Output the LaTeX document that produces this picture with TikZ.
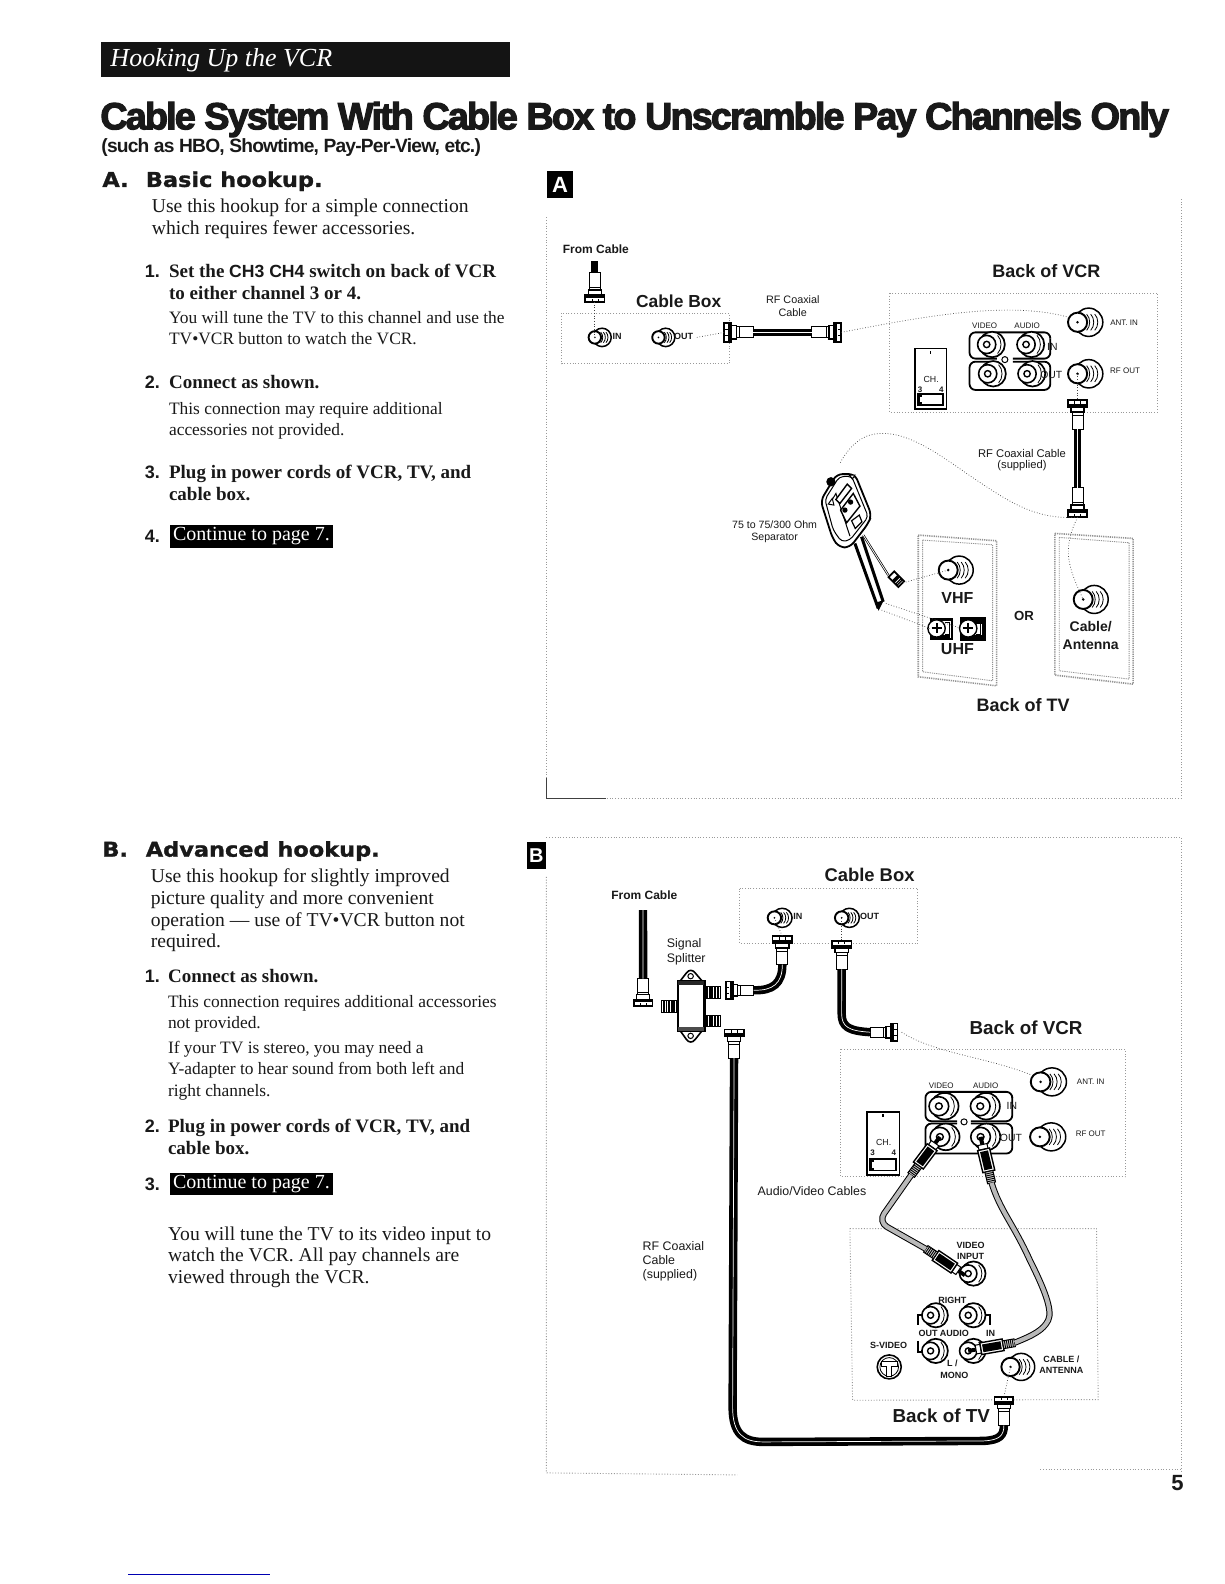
\documentclass[tikz,border=0pt]{standalone}
\usepackage{fontspec}
\setmainfont{Liberation Serif}
\setsansfont{Liberation Sans}
\newfontfamily\titlef[BoldFeatures={FakeBold=3,LetterSpace=-5}]{Liberation Sans}
\newfontfamily\subf[BoldFeatures={LetterSpace=-4.1}]{Liberation Sans}
\newfontfamily\headf[BoldFeatures={FakeBold=1.2,FakeStretch=1.1}]{DejaVu Sans}
\usetikzlibrary{calc}
\tikzset{
 txt/.style={inner sep=0pt,anchor=base west,text=black!90},
 ctr/.style={inner sep=0pt,anchor=center,text=black!90,align=center},
 para/.style={txt,font=\fontsize{9.8}{12}\selectfont},
 sub/.style={txt,font=\fontsize{8.7}{10}\selectfont},
 head/.style={txt,font=\fontsize{9.5}{12}\selectfont\bfseries},
 num/.style={txt,font=\sffamily\bfseries\fontsize{9}{11}\selectfont},
 big/.style={txt,font=\headf\bfseries\fontsize{10.2}{13}\selectfont},
 lblb/.style={ctr,font=\sffamily\bfseries\fontsize{9}{11}\selectfont},
 lblm/.style={ctr,font=\sffamily\bfseries\fontsize{7}{8.4}\selectfont},
 lbls/.style={ctr,font=\sffamily\bfseries\fontsize{6}{7}\selectfont},
 lbln/.style={ctr,font=\sffamily\fontsize{6.2}{7.5}\selectfont},
 lblt/.style={ctr,font=\sffamily\fontsize{4}{5}\selectfont},
 lbltb/.style={ctr,font=\sffamily\bfseries\fontsize{4.5}{5.2}\selectfont},
 framedot/.style={dash pattern=on .5pt off .9pt,gray!80,line width=.45pt},
 platedot/.style={dash pattern=on .6pt off .5pt,gray!85,line width=.8pt},
 wire/.style={densely dotted,black!75,line width=.35pt},
 coax/.style={black,line width=3.6pt,line cap=butt},
 coaxb/.style={black,line width=4.2pt,line cap=butt},
 coaxin/.style={white,line width=.35pt},
 avcable/.style={draw=black,double=gray!55,double distance=2.1pt,line width=.5pt},
 part/.style={draw=black,line width=.55pt,fill=white},
 btn/.style={inner sep=0pt,anchor=center,text=white,fill=black,minimum width=81.8pt,minimum height=11.1pt,font=\fontsize{10}{12}\selectfont},
}
% coaxial jack, front face left, threads right
\newcommand{\coaxjack}[4]{\begin{scope}[shift={(#2,#3)},scale=#4]
 \draw[part,line width=.75pt] (11,0) circle (14);
 \foreach \q in {9,13,17}{\draw[line width=.4pt] (\q,-8) .. controls (\q+4,-4) and (\q+4,4) .. (\q,8);}
 \draw[part,line width=.95pt] (0,0) circle (9.5);
 \fill (0,0) circle (1.4);
 \coordinate (#1) at (0,0);
\end{scope}}
% phono jack
\newcommand{\rcajack}[4]{\begin{scope}[shift={(#2,#3)},scale=#4]
 \draw[part,line width=.85pt] (6,0) circle (14);
 \draw[line width=.4pt] (12,-10) .. controls (17,-5) and (17,5) .. (12,10);
 \draw[part,line width=.8pt] (0,0) circle (10);
 \draw[part,line width=.7pt] (0,0) circle (3.5);
 \coordinate (#1) at (0,0);
\end{scope}}
% threaded plug: nose at origin, cable leaves along +x
\newcommand{\plug}[5]{\begin{scope}[shift={(#2,#3)},rotate=#4,scale=#5]
 \draw[part,line width=.5pt] (12,-5.5) rectangle (29,5.5);
 \draw[part,line width=.7pt] (7,-6.5) rectangle (12,6.5);
 \draw[part,line width=.8pt] (0,-9.5) rectangle (7,9.5);
 \fill (4,-9.5) rectangle (7,9.5);
 \draw[line width=.3pt] (15,-5) -- (15,5);
 \draw[line width=.3pt] (0.5,-3) -- (3.5,-3) (0.5,3) -- (3.5,3);
 \coordinate (#1) at (29,0);
 \coordinate (#1-nose) at (0,0);
\end{scope}}
% phono plug: tip at origin, cable leaves along +x
\newcommand{\rcaplug}[5]{\begin{scope}[shift={(#2,#3)},rotate=#4,scale=#5]
 \fill (0,-2) rectangle (8,2);
 \draw[part,line width=.5pt] (8,-4.5) rectangle (13,4.5);
 \draw[part,line width=.7pt] (13,-6) rectangle (36,6);
 \fill (15,-4) rectangle (34,4);
 \draw[fill=gray!40,line width=.5pt] (36,-4) rectangle (48,4);
 \foreach \q in {38,40,...,46}{\draw[line width=.45pt] (\q,-4) -- (\q,4);}
 \coordinate (#1) at (48,0);
\end{scope}}
% control panel of the VCR
\newcommand{\chpanel}{%
 \draw[part,line width=.7pt] (0,0) rectangle (31,60);
 \fill (14.5,2) rectangle (16,5);
 \draw[black,fill=white,line width=.8pt] (3,45) rectangle (28,56);
 \fill (3,45) rectangle (7,56);
 \draw[fill=white,draw=none] (5,48) rectangle (9,53);
}
\newcommand{\threads}[4]{% x1,y1,x2,y2 horizontal threads
 \draw[part,line width=.5pt] (#1,#2) rectangle (#3,#4);
 \foreach \q in {0,.1,...,1}{\draw[line width=.55pt] ($(#1,#2)!\q!(#3,#2)$) -- ($(#1,#4)!\q!(#3,#4)$);}
}
\begin{document}
\begin{tikzpicture}[x=.50495pt,y=-.50510pt]
\useasboundingbox (0,0) rectangle (1212,1568);
\fill[white] (0,0) rectangle (1212,1568);

% ---------- header ----------
\fill[black!92] (100,42) rectangle (505,76);
\node[txt,text=white,font=\itshape\fontsize{13}{15}\selectfont] (hdr) at (109,66) {Hooking Up the VCR};
\node[txt,font=\titlef\bfseries\fontsize{18.9}{20}\selectfont] (title) at (99,128) {Cable System With Cable Box to Unscramble Pay Channels Only};
\node[txt,font=\subf\bfseries\fontsize{9.6}{11}\selectfont] (subt) at (100,151) {(such as HBO, Showtime, Pay-Per-View, etc.)};

% ---------- left column A ----------
\node[big] (Aa) at (101,185) {A.};
\node[big] (Ab) at (144,185) {Basic hookup.};
\node[para] (a1) at (150,210) {Use this hookup for a simple connection};
\node[para] (a2) at (150,232) {which requires fewer accessories.};
\node[num] (n1) at (143,275) {1.};
\node[head] (a3) at (167,275) {Set the \textsf{\fontsize{8.8}{12}\selectfont CH3 CH4} switch on back of VCR};
\node[head] (a4) at (167,296) {to either channel 3 or 4.};
\node[sub] (a5) at (167,320) {You will tune the TV to this channel and use the};
\node[sub] (a6) at (167,341) {TV•VCR button to watch the VCR.};
\node[num] (n2) at (143,385) {2.};
\node[head] (a7) at (167,385) {Connect as shown.};
\node[sub] (a8) at (167,410) {This connection may require additional};
\node[sub] (a9) at (167,431) {accessories not provided.};
\node[num] (n3) at (143,474) {3.};
\node[head] (a10) at (167,474) {Plug in power cords of VCR, TV, and};
\node[head] (a11) at (167,495) {cable box.};
\node[num] (n4) at (143,537) {4.};
\node[btn] (a12) at (249,531) {Continue to page 7.};

% ---------- left column B ----------
\node[big] (Ba) at (101,848) {B.};
\node[big] (Bb) at (144,848) {Advanced hookup.};
\node[para] (b1) at (149,874) {Use this hookup for slightly improved};
\node[para] (b2) at (149,895) {picture quality and more convenient};
\node[para] (b3) at (149,917) {operation — use of TV•VCR button not};
\node[para] (b4) at (149,938) {required.};
\node[num] (m1) at (143,973) {1.};
\node[head] (b5) at (166,973) {Connect as shown.};
\node[sub] (b6) at (166,997) {This connection requires additional accessories};
\node[sub] (b7) at (166,1018) {not provided.};
\node[sub] (b8) at (166,1043) {If your TV is stereo, you may need a};
\node[sub] (b9) at (166,1064) {Y-adapter to hear sound from both left and};
\node[sub] (b10) at (166,1085) {right channels.};
\node[num] (m2) at (143,1121) {2.};
\node[head] (b11) at (166,1121) {Plug in power cords of VCR, TV, and};
\node[head] (b12) at (166,1143) {cable box.};
\node[num] (m3) at (143,1178) {3.};
\node[btn] (b13) at (249,1172) {Continue to page 7.};
\node[para] (b14) at (166,1228) {You will tune the TV to its video input to};
\node[para] (b15) at (166,1249) {watch the VCR. All pay channels are};
\node[para] (b16) at (166,1271) {viewed through the VCR.};

% page number and rule
\node[ctr,font=\sffamily\bfseries\fontsize{11}{13}\selectfont] (pg) at (1166,1468) {5};
\draw[blue!70!black,line width=.4pt] (127,1558) -- (267,1558);

% ---------- panel frames ----------
\draw[framedot] (541,215) -- (541,790) -- (1170,790) -- (1170,195);
\draw[black!75,line width=.5pt] (541,770) -- (541,790) -- (600,790);
\draw[framedot] (541,829) -- (1170,829) -- (1170,1458);
\draw[framedot] (541,868) -- (541,1458) -- (730,1460);
\draw[framedot] (1030,1455) -- (1170,1455);
\node[inner sep=0pt,fill=black,text=white,minimum width=13.3pt,minimum height=13.5pt,font=\sffamily\bfseries\fontsize{11}{11}\selectfont] (tagA) at (554.5,183) {A};
\node[inner sep=0pt,fill=black,text=white,minimum width=9.5pt,minimum height=13.5pt,font=\sffamily\bfseries\fontsize{10}{11}\selectfont] (tagB) at (531,847) {B};

% ---------- panel A, top ----------
\node[lbls] (fcA) at (590,247) {From Cable};
\node[lblb,font=\sffamily\bfseries\fontsize{8.7}{10}\selectfont] (cbA) at (672,298) {Cable Box};
\node[lblt,font=\sffamily\fontsize{5.4}{6.5}\selectfont] (rfA) at (785,297) {RF Coaxial};
\node[lblt,font=\sffamily\fontsize{5.4}{6.5}\selectfont] (rfA2) at (785,309) {Cable};
\node[lblb] (vcrA) at (1036,268) {Back of VCR};
\draw[framedot] (556,310) rectangle (722,360);
\draw[framedot] (881,290) rectangle (1146,408);

\coaxjack{jAin}{589}{334}{.65}
\coaxjack{jAout}{652}{334}{.65}
\node[lbltb] (inA) at (611,333) {IN};
\node[lbltb] (outA) at (677,333) {OUT};
\plug{pAf}{589}{299}{90}{1}
\draw[coax] (pAf) -- (589,258);
\draw[wire] (pAf-nose) -- (jAin);
\plug{pAl}{717}{329}{0}{1}
\plug{pAr}{833}{329}{180}{1}
\draw[coax] (pAl) -- (pAr);
\draw[coaxin] (pAl) -- (pAr);
\draw[wire] (jAout) ++(38,0) -- (pAl-nose);
\coaxjack{jAant}{1067}{319}{1}
\coaxjack{jArf}{1067}{370}{1}
\draw[wire] (pAr-nose) .. controls (920,312) and (1000,298) .. (1058,314);
\node[lblt] (vidA) at (975,322) {VIDEO};
\node[lblt] (audA) at (1017,322) {AUDIO};
\node[lblt] (antA) at (1113,319) {ANT. IN};
\node[lblt] (rfoA) at (1114,367) {RF OUT};
\draw[black,line width=.9pt,rounded corners=3pt] (1040,335) -- (1040,329) -- (960,329) -- (960,355) -- (987,355);
\draw[black,line width=.9pt,rounded corners=3pt] (1003,355) -- (1040,355) -- (1040,335);
\draw[black,line width=.9pt,rounded corners=3pt] (987,358) -- (960,358) -- (960,386) -- (1040,386) -- (1040,358) -- (1003,358);
\draw[line width=.5pt] (995,356) circle (3);
\rcajack{rAa}{977}{341}{.9}
\rcajack{rAb}{1016}{341}{.9}
\rcajack{rAc}{978}{370}{.9}
\rcajack{rAd}{1017}{370}{.9}
\node[lblt,font=\sffamily\fontsize{5.2}{6}\selectfont] (inAb) at (1042,343) {IN};
\node[lblt,font=\sffamily\fontsize{5.2}{6}\selectfont] (outAb) at (1041,371) {OUT};
\begin{scope}[shift={(906,345)}]\chpanel\end{scope}
\node[lblt,font=\sffamily\fontsize{4.4}{5}\selectfont] (chA) at (922,376) {CH.};
\node[lblt,font=\sffamily\bfseries\fontsize{4}{5}\selectfont] (c3A) at (911,386) {3};
\node[lblt,font=\sffamily\bfseries\fontsize{4}{5}\selectfont] (c4A) at (932,386) {4};

% ---------- panel A, lower ----------
\plug{pAt}{1067}{396}{-90}{1}
\plug{pAb}{1067}{512}{90}{1}
\draw[coax] (pAt) -- (pAb);
\draw[coaxin] (pAt) -- (pAb);
\draw[wire] (jArf) -- (pAt-nose);
\node[lbln,font=\sffamily\fontsize{5.6}{6.7}\selectfont] (rfA3) at (1012,449) {RF Coaxial Cable};
\node[lbln,font=\sffamily\fontsize{5.6}{6.7}\selectfont] (rfA4) at (1012,461) {(supplied)};
\node[lbln,font=\sffamily\fontsize{5.3}{6.5}\selectfont] (sepA) at (767,519) {75 to 75/300 Ohm};
\node[lbln,font=\sffamily\fontsize{5.3}{6.5}\selectfont] (sepB) at (767,532) {Separator};
% separator
\begin{scope}[shift={(792.08,455.45)},scale=.33]
 \draw[black,line width=1.1pt,fill=white] (190,225) -- (265,345);
 \draw[white,line width=.4pt] (190,225) -- (265,345);
 \draw[black,line width=1.5pt] (165,250) -- (235,445);
 \draw[black,line width=1.5pt] (185,230) -- (250,425);
 \fill (226,428) -- (252,420) -- (236,452) -- cycle;
 \draw[part,line width=.9pt,rounded corners=3pt] (62,122) -- (110,42) -- (165,42) -- (215,165) -- (205,190) -- (150,262) -- (118,262) -- (98,235) -- cycle;
 \draw[line width=.5pt,rounded corners=2pt] (75,118) -- (118,50) -- (155,48) -- (205,170) -- (150,240) -- (125,245) -- (100,210) -- cycle;
 \draw[line width=.5pt] (96,120) -- (108,100) -- (150,228);
 \draw[part,line width=.7pt] (108,118) -- (142,72) -- (155,85) -- (120,130) -- cycle;
 \draw[part,line width=.7pt] (122,150) -- (160,100) -- (180,138) -- (140,188) -- cycle;
 \fill (135,150) circle (8); \fill (152,126) circle (8);
 \draw[part,line width=.6pt] (155,182) -- (178,165) -- (186,185) -- (166,205) -- cycle;
 \draw[part,line width=.5pt] (85,132) -- (97,115) -- (102,135) -- cycle;
 \draw[part,line width=.5pt] (148,45) -- (165,45) -- (158,56) -- cycle;
 \fill (93,65) circle (14);
 \begin{scope}[shift={(290,358)},rotate=-45]
  \draw[part,line width=.9pt] (-22,-12) rectangle (20,12);
  \fill (-8,-12) rectangle (3,12);
  \foreach \q in {8,13}{\draw[line width=.6pt] (\q,-12) -- (\q,12);}
 \end{scope}
 \coordinate (sepEnd) at (310,368);
 \coordinate (sepU1) at (258,430);
 \coordinate (sepU2) at (245,450);
 \coordinate (sepTop) at (120,10);
\end{scope}
\begin{scope}[shift={(693.07,415.84)},xscale=.33,yscale=.33]
 % wall plates
 \draw[platedot] (655,345) -- (890,362) -- (890,797) -- (655,770) -- cycle;
 \draw[platedot,line width=.45pt] (668,360) -- (878,374) -- (878,782) -- (668,755) -- cycle;
 \draw[platedot] (1065,340) -- (1300,355) -- (1300,792) -- (1065,765) -- cycle;
 \draw[platedot,line width=.45pt] (1078,352) -- (1288,368) -- (1288,777) -- (1078,752) -- cycle;
 % TV jacks
 \coaxjack{jTv}{745}{450}{3}
 \coaxjack{jTc}{1150}{538}{3}
 \draw[wire] (sepEnd) -- (jTv);
 % UHF
 \draw[black,line width=1.2pt,fill=white] (695,598) rectangle (757,656);
 \draw[black,line width=2pt,fill=white] (787,598) rectangle (853,656);
 \fill (800,600) rectangle (850,612); \fill (800,645) rectangle (850,655);
 \fill (700,645) rectangle (750,655);
 \foreach \q in {710,805}{
  \draw[part,line width=.7pt] (\q,625) circle (26);
  \draw[line width=1pt] (\q-15,625) -- (\q+15,625) (\q,610) -- (\q,640);
  \draw[line width=.6pt] (\q+24,608) -- (\q+38,608) -- (\q+38,642) -- (\q+24,642);
 }
 \coordinate (uA) at (690,625);
 \coordinate (uB) at (775,622);
 \draw[wire] (sepU1) -- (uB);
 \draw[wire] (sepU2) -- (uA);
 % dotted coax route
 \draw[wire] (pAb-nose) .. controls (1000,300) and (920,240) .. (800,160) .. controls (700,90) and (600,20) .. (510,45) .. controls (460,60) and (430,110) .. (sepTop);
 \draw[wire] (pAb-nose) .. controls (1085,390) and (1105,440) .. (jTc);
\end{scope}
\node[lblm,font=\sffamily\bfseries\fontsize{8}{9.5}\selectfont] (vhf) at (948,592) {VHF};
\node[lblm,font=\sffamily\bfseries\fontsize{8}{9.5}\selectfont] (uhf) at (948,643) {UHF};
\node[lblm,font=\sffamily\bfseries\fontsize{6.6}{8}\selectfont] (orA) at (1014,610) {OR};
\node[lblm] (cabA) at (1080,620) {Cable/};
\node[lblm] (antnA) at (1080,638) {Antenna};
\node[lblb] (tvA) at (1013,698) {Back of TV};

% ---------- panel B, upper ----------
\begin{scope}[shift={(584.16,841.58)},xscale=.3414,yscale=.33]
 \draw[framedot] (435,115) rectangle (950,280);
 \draw[framedot] (727,597) rectangle (1553,980);
 \coaxjack{jBin}{535}{203}{2.05}
 \coaxjack{jBout}{730}{203}{2.05}
 % signal splitter
 \draw[part,line width=.8pt] (262,392) -- (280,368) .. controls (287,358) and (298,358) .. (305,368) -- (325,392) -- cycle;
 \draw[part,line width=.8pt] (262,542) -- (280,568) .. controls (287,578) and (298,578) .. (305,568) -- (325,542) -- cycle;
 \draw[line width=.5pt] (292,378) circle (8);
 \draw[line width=.5pt] (292,557) circle (8);
 \threads{333}{410}{378}{445}
 \threads{333}{495}{378}{530}
 \threads{208}{450}{255}{488}
 \draw[part,line width=1.2pt] (255,392) rectangle (332,542);
 \fill[black!85] (255,392) rectangle (332,403);
 \fill[black!70] (255,530) rectangle (332,542);
 % from cable
 \plug{pBf}{154}{468}{90}{2.85}
 \draw[coaxb] (pBf) -- (154,180);
 \draw[coaxin] (pBf) -- (154,180);
 % splitter to cable box
 \plug{pBsa}{395}{420}{0}{2.75}
 \plug{pBi}{558}{258}{-90}{2.95}
 \draw[coaxb] (pBsa) .. controls (530,422) and (558,400) .. (pBi);
 \draw[coaxin] (pBsa) .. controls (530,422) and (558,400) .. (pBi);
 % cable box to VCR
 \plug{pBo}{730}{272}{-90}{2.95}
 \plug{pBv}{892}{546}{180}{2.75}
 \draw[coaxb] (pBo) -- (730,490) .. controls (730,530) and (750,542) .. (pBv);
 \draw[coaxin] (pBo) -- (730,490) .. controls (730,530) and (750,542) .. (pBv);
 \draw[wire] (jBin) -- (pBi-nose);
 \draw[wire] (jBout) -- (pBo-nose);
 % long cable plug at splitter
 \plug{pBl}{418}{538}{-90}{2.95}
 % VCR panel
 \coaxjack{jBant}{1307}{695}{3}
 \coaxjack{jBrf}{1305}{860}{3}
 \draw[wire] (pBv-nose) ++(12,0) .. controls (1000,610) and (1150,620) .. (1282,675);
 \draw[black,line width=.9pt,rounded corners=3pt] (1225,740) -- (1225,725) -- (973,725) -- (973,813) -- (1065,813);
 \draw[black,line width=.9pt,rounded corners=3pt] (1105,813) -- (1225,813) -- (1225,740);
 \draw[black,line width=.9pt,rounded corners=3pt] (1065,820) -- (973,820) -- (973,910) -- (1225,910) -- (1225,820) -- (1105,820);
 \draw[line width=.5pt] (1085,815) circle (9);
 \rcajack{rBa}{1012}{768}{2.85}
 \rcajack{rBb}{1132}{768}{2.85}
 \rcajack{rBc}{1015}{860}{2.85}
 \rcajack{rBd}{1133}{860}{2.85}
 \begin{scope}[shift={(803,785)},xscale=3.05,yscale=3.15]\chpanel\end{scope}
 \rcaplug{vcL}{1015}{860}{-126}{2.95}
 \rcaplug{vcR}{1133}{860}{-77}{2.95}
\end{scope}
\node[lblb,font=\sffamily\bfseries\fontsize{9.2}{11}\selectfont] (cbB) at (861,866) {Cable Box};
\node[lbls] (fcB) at (638,886) {From Cable};
\node[lbln,anchor=west] (sig) at (660,935) {Signal};
\node[lbln,anchor=west] (spl) at (660,950) {Splitter};
\node[lblb,font=\sffamily\bfseries\fontsize{9.4}{11}\selectfont] (vcrB) at (1016,1017) {Back of VCR};
\node[lbltb] (inB) at (790,907) {IN};
\node[lbltb] (outB) at (861,907) {OUT};
\node[lblt] (vidB) at (932,1075) {VIDEO};
\node[lblt] (audB) at (976,1075) {AUDIO};
\node[lblt] (antB) at (1080,1071) {ANT. IN};
\node[lblt] (rfoB) at (1080,1122) {RF OUT};
\node[lblt,font=\sffamily\fontsize{5.2}{6}\selectfont] (inBb) at (1002,1095) {IN};
\node[lblt,font=\sffamily\fontsize{5.2}{6}\selectfont] (outBb) at (1001,1126) {OUT};
\node[lblt,font=\sffamily\fontsize{4.4}{5}\selectfont] (chB) at (875,1131) {CH.};
\node[lblt,font=\sffamily\bfseries\fontsize{4}{5}\selectfont] (c3B) at (864,1141) {3};
\node[lblt,font=\sffamily\bfseries\fontsize{4}{5}\selectfont] (c4B) at (885,1141) {4};
\node[lbln] (avB) at (804,1179) {Audio/Video Cables};
\node[lbln,anchor=west] (rfB) at (636,1233) {RF Coaxial};
\node[lbln,anchor=west] (rfB2) at (636,1247) {Cable};
\node[lbln,anchor=west] (rfB3) at (636,1262) {(supplied)};

% ---------- panel B, lower ----------
\begin{scope}[shift={(712.87,1168.3)},scale=.33]
 \draw[framedot] (390,145) -- (1130,145) -- (1135,658) -- (398,660) -- cycle;
 \coaxjack{jTcb}{872}{560}{2.9}
 % long cable
 \plug{pBtv}{852}{650}{-90}{2.95}
 \draw[coaxb] (pBl) -- (38,680) .. controls (38,760) and (70,785) .. (130,785) -- (790,782) .. controls (840,780) and (852,765) .. (pBtv);
 \draw[coaxin] (pBl) -- (38,680) .. controls (38,760) and (70,785) .. (130,785) -- (790,782) .. controls (840,780) and (852,765) .. (pBtv);
 \draw[wire] (jTcb) -- (pBtv-nose);
 % TV jacks
 \rcajack{tv0}{745}{280}{2.6}
 \rcajack{tv1}{632}{405}{2.6}
 \rcajack{tv2}{745}{405}{2.6}
 \rcajack{tv3}{632}{512}{2.6}
 \rcajack{tv4}{745}{512}{2.6}
 \draw[line width=.8pt] (610,405) -- (595,405) -- (595,435);
 \draw[line width=.8pt] (795,405) -- (810,405) -- (810,435);
 \draw[line width=.8pt] (595,482) -- (595,515) -- (610,515);
 % s-video
 \draw[part,line width=.8pt] (508,560) circle (36);
 \draw[line width=.4pt] (508,560) circle (28);
 \draw[line width=.5pt,fill=white] (484,545) -- (532,545) -- (532,558) -- (516,558) -- (516,590) -- (500,590) -- (500,558) -- (484,558) -- cycle;
 % plugs and A/V cables
 \rcaplug{tvL}{735}{285}{146}{2.95}
 \rcaplug{tvR}{745}{512}{10}{2.95}
 \draw[avcable,rounded corners=5pt] (vcL) -- (475,125) -- (tvL);
 \draw[avcable] (vcR) .. controls (840,90) and (880,130) .. (930,240) .. controls (970,320) and (1000,390) .. (985,420) .. controls (970,450) and (940,465) .. (tvR);
\end{scope}
\node[lbltb] (viB) at (961,1233) {VIDEO};
\node[lbltb] (ipB) at (961,1244) {INPUT};
\node[lbltb] (riB) at (943,1287) {RIGHT};
\node[lbltb] (ouB) at (919,1320) {OUT};
\node[lbltb] (adB) at (945,1320) {AUDIO};
\node[lbltb] (iiB) at (981,1320) {IN};
\node[lbltb] (sB) at (880,1332) {S-VIDEO};
\node[lbltb] (lB) at (943,1350) {L /};
\node[lbltb] (mB) at (945,1361) {MONO};
\node[lbltb] (cbT) at (1051,1346) {CABLE /};
\node[lbltb] (anT) at (1051,1357) {ANTENNA};
\node[lblb,font=\sffamily\bfseries\fontsize{9.4}{11}\selectfont] (tvB) at (932,1401) {Back of TV};
\end{tikzpicture}
\end{document}
